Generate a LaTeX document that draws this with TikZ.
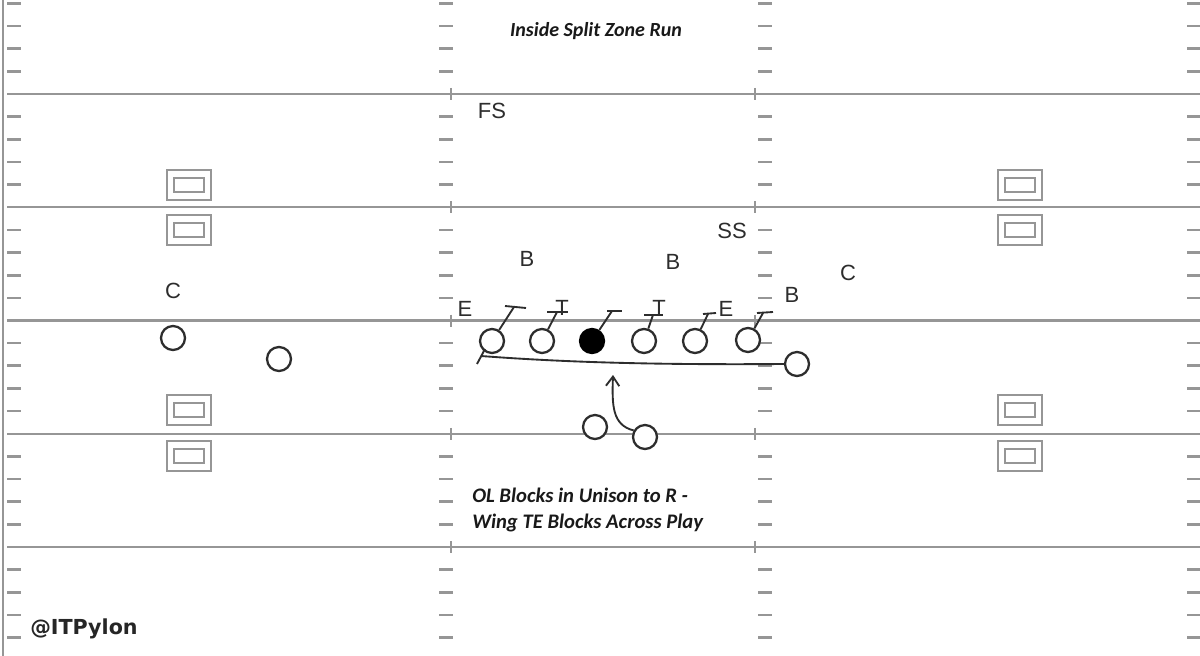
\documentclass[tikz,border=0pt]{standalone}
\usepackage{fontspec}
\setmainfont{Liberation Sans}
\newfontfamily\calib{Carlito}
\newfontfamily\verd{DejaVu Sans}
\usetikzlibrary{arrows.meta,calc}
\definecolor{fieldgray}{RGB}{150,150,150}
\definecolor{ink}{RGB}{45,45,45}
\begin{document}
\begin{tikzpicture}[x=0.75pt,y=-0.75pt,
  yard/.style={fieldgray,line width=1.6pt},
  tickmark/.style={fieldgray,line width=2pt},
  player/.style={circle,draw=ink,line width=1.7pt,minimum size=18pt,inner sep=0pt,fill=white},
  snapper/.style={player,fill=black,draw=black},
  lab/.style={text=ink,font=\fontsize{16.5}{19}\selectfont,inner sep=0pt},
  blk/.style={ink,line width=1.4pt},
  numbox/.style={draw=fieldgray,line width=1.5pt,minimum width=33pt,minimum height=22.5pt,inner sep=0pt},
  numinner/.style={draw=fieldgray,line width=1.5pt,minimum width=22.5pt,minimum height=10.5pt,inner sep=0pt},
  note/.style={font=\calib\bfseries\itshape\fontsize{15.5}{18}\selectfont,text=black!90,inner sep=0pt}
]
\useasboundingbox (0,0) rectangle (1200,656);
\fill[white] (0,0) rectangle (1200,656);
% left border
\draw[fieldgray,line width=1.5pt] (3,0) -- (3,656);
% yard lines with hash crosses
\foreach \yy in {94,207.25,320.5,433.75,547}{
  \draw[yard] (7,\yy) -- (1200,\yy);
  \draw[tickmark,line width=1.4pt] (451,\yy-6) -- (451,\yy+6);
  \draw[tickmark,line width=1.4pt] (755,\yy-6) -- (755,\yy+6);
}
% hash ticks
\foreach \m in {1,...,29}{
  \pgfmathtruncatemacro\r{mod(\m,5)}
  \ifnum\r>0
    \pgfmathsetmacro\yy{-19.25+22.65*\m}
    \draw[tickmark] (7,\yy) -- (21,\yy);
    \draw[tickmark] (439,\yy) -- (453,\yy);
    \draw[tickmark] (758,\yy) -- (772,\yy);
    \draw[tickmark] (1187,\yy) -- (1200,\yy);
  \fi
}
% number boxes
\foreach \nx/\nm in {188.5/l,1020/r}{
  \foreach \ny/\k in {185/1,230/2,410/3,455.5/4}{
    \node[numbox] (nb\nm\k) at (\nx,\ny) {};
    \node[numinner] (ni\nm\k) at (nb\nm\k) {};
  }
}
% title
\node[note,font=\calib\bfseries\itshape\fontsize{15}{18}\selectfont] (title) at (596,31) {Inside Split Zone Run};
% defense labels
\node[lab] (fs) at (492,111) {FS};
\node[lab] (ss) at (732,231) {SS};
\node[lab] (b1) at (527,259) {B};
\node[lab] (b2) at (673,262) {B};
\node[lab] (cr) at (848,273) {C};
\node[lab] (cl) at (173,291) {C};
\node[lab] (b3) at (792,295) {B};
\node[lab] (e1) at (465,309) {E};
\node[lab] (t1) at (562,308) {T};
\node[lab] (t2) at (659,308) {T};
\node[lab] (e2) at (726,309) {E};
% offense
\node[player] (wl1) at (173,338) {};
\node[player] (wl2) at (279,359) {};
\node[player] (ol1) at (492,341) {};
\node[player] (ol2) at (542,341) {};
\node[snapper] (ol3) at (592,341) {};
\node[player] (ol4) at (644,341) {};
\node[player] (ol5) at (695,341) {};
\node[player] (ol6) at (748,340) {};
\node[player] (wing) at (797,364) {};
\node[player] (qb) at (595,427) {};
\node[player] (rb) at (645,437) {};
% block assignments
\coordinate (k1) at (514,307);
\coordinate (k2) at (557,312);
\coordinate (k3) at (612,311);
\coordinate (k4) at (653,315);
\coordinate (k5) at (708,314);
\coordinate (k6) at (763,313);
\draw[blk] (ol1) -- (k1); \draw[blk] ($(k1)+(-9,-1)$) -- ($(k1)+(12,1)$);
\draw[blk] (ol2) -- (k2); \draw[blk] ($(k2)+(-10,0)$) -- ($(k2)+(11,0)$);
\draw[blk] (ol3) -- (k3); \draw[blk] ($(k3)+(-5,0)$) -- ($(k3)+(10,0)$);
\draw[blk] (ol4) -- (k4); \draw[blk] ($(k4)+(-9,0)$) -- ($(k4)+(10,0)$);
\draw[blk] (ol5) -- (k5); \draw[blk] ($(k5)+(-5,0)$) -- ($(k5)+(8,-1)$);
\draw[blk] (ol6) -- (k6); \draw[blk] ($(k6)+(-6,0)$) -- ($(k6)+(10,-1)$);
% wing block across
\coordinate (wk) at (481,356);
\draw[blk] (wing.west) .. controls (650,365) and (560,362) .. (wk);
\draw[blk] (477,364) -- (485,349);
% back path
\coordinate (ar) at (613,375);
\draw[blk,-{Straight Barb[length=7pt,width=10pt]}] (rb.150) .. controls (612,425) and (612,405) .. (ar);
% notes
\node[note,anchor=base west] (n1) at (472,502) {OL Blocks in Unison to R -};
\node[note,anchor=base west] (n2) at (472,528) {Wing TE Blocks Across Play};
\node[font=\verd\bfseries\fontsize{15.5}{18}\selectfont,anchor=base west,inner sep=0pt,text=black!85] (tag) at (30,634) {@ITPylon};
\end{tikzpicture}
\end{document}
